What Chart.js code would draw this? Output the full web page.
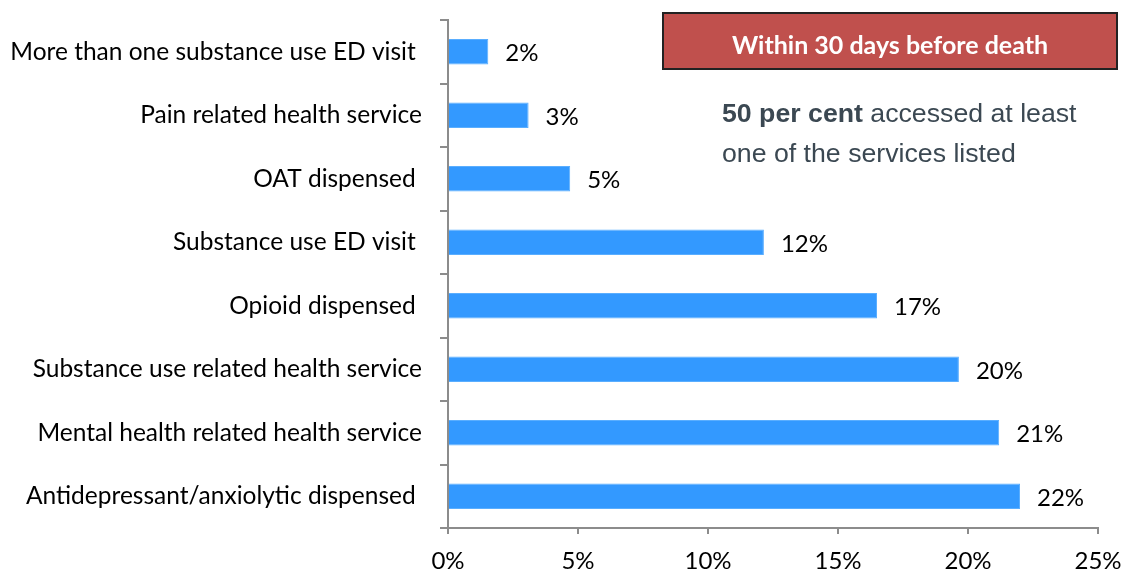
<!DOCTYPE html>
<html>
<head>
<meta charset="utf-8">
<script src="https://cdn.jsdelivr.net/npm/chart.js@4"></script>
<style>
  html, body { margin: 0; padding: 0; background: #fff; }
  #wrap { width: 1122px; height: 573px; }
</style>
</head>
<body>
<div id="wrap"><canvas id="servicesChart" width="1122" height="573"></canvas></div>
<script>
// Категорії (зверху вниз)
const categories = [
  'More than one substance use ED visit ',
  'Pain related health service',
  'OAT dispensed ',
  'Substance use ED visit ',
  'Opioid dispensed ',
  'Substance use related health service',
  'Mental health related health service',
  'Antidepressant/anxiolytic dispensed '
];
// Значення (%), зчитані з довжини стовпчиків
const shares = [1.55, 3.1, 4.7, 12.15, 16.5, 19.65, 21.2, 22.0];
// Підписи до стовпчиків
const shareLabels = ['2%', '3%', '5%', '12%', '17%', '20%', '21%', '22%'];
const xTicks = [0, 5, 10, 15, 20, 25];

const LEFT = 448;
const BOTTOM = 528;

// Підписи значень та примітки
const annotations = {
  id: 'annotations',
  afterDatasetsDraw(chart) {
    const ctx = chart.ctx;
    const meta = chart.getDatasetMeta(0);
    ctx.save();
    ctx.fillStyle = '#000';
    ctx.font = '24px Lato';
    ctx.textAlign = 'left';
    ctx.textBaseline = 'middle';
    meta.data.forEach((bar, i) => {
      ctx.fillText(shareLabels[i], bar.x + 17, bar.y + 2);
    });

    // червона плашка
    ctx.fillStyle = '#C0504D';
    ctx.fillRect(663, 13, 454, 56);
    ctx.strokeStyle = '#222';
    ctx.lineWidth = 2;
    ctx.strokeRect(663, 13, 454, 56);
    ctx.fillStyle = '#fff';
    ctx.font = 'bold 25px Lato';
    ctx.textAlign = 'center';
    ctx.fillText('Within 30 days before death', 890, 46);

    // текст
    ctx.textAlign = 'left';
    ctx.fillStyle = '#3b4852';
    ctx.font = 'bold 26.7px "Liberation Sans"';
    const boldPart = '50 per cent';
    ctx.fillText(boldPart, 722, 115);
    const w = ctx.measureText(boldPart + ' ').width;
    ctx.font = '26.7px "Liberation Sans"';
    ctx.fillText('accessed at least', 722 + w, 115);
    ctx.fillText('one of the services listed', 722, 155);
    ctx.restore();
  }
};

const chart = new Chart(document.getElementById('servicesChart'), {
  type: 'bar',
  data: {
    labels: categories,
    datasets: [{
      data: shares,
      backgroundColor: '#3399FF',
      borderColor: '#5aaeff',
      borderWidth: 1,
      barPercentage: 0.4,
      categoryPercentage: 1.0
    }]
  },
  options: {
    indexAxis: 'y',
    responsive: false,
    animation: false,
    layout: { padding: { top: 20, right: 24, left: 0, bottom: 0 } },
    plugins: {
      legend: { display: false },
      tooltip: { enabled: false }
    },
    scales: {
      x: {
        min: 0,
        max: 25,
        afterBuildTicks: (scale) => { scale.ticks = xTicks.map(v => ({ value: v })); },
        afterFit: (scale) => {
          scale.height = 573 - BOTTOM;
          scale.paddingLeft = 0;
          scale.paddingRight = 0;
        },
        border: { display: true, color: '#8c8c8c', width: 2 },
        grid: { drawOnChartArea: false, drawTicks: true, tickLength: 6, color: '#8c8c8c', lineWidth: 2 },
        ticks: {
          color: '#000',
          font: { family: 'Lato', size: 24 },
          padding: 13,
          maxRotation: 0,
          callback: (v) => v + '%'
        }
      },
      y: {
        offset: true,
        afterFit: (scale) => {
          scale.width = LEFT;
          scale.paddingTop = 0;
          scale.paddingBottom = 0;
        },
        border: { display: true, color: '#8c8c8c', width: 2 },
        grid: { offset: true, drawOnChartArea: false, drawTicks: true, tickLength: 8, color: '#8c8c8c', lineWidth: 2 },
        ticks: {
          color: '#000',
          font: { family: 'Lato', size: 24.5 },
          padding: 18
        }
      }
    }
  },
  plugins: [annotations]
});
</script>
</body>
</html>
